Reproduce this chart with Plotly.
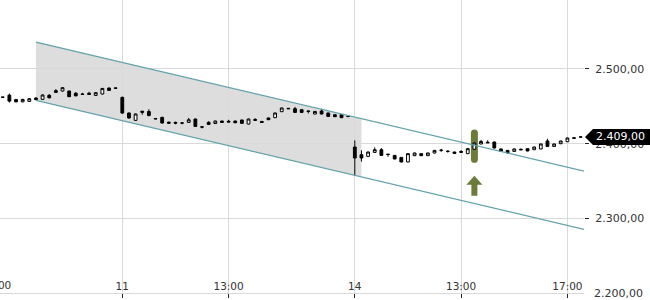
import plotly.graph_objects as go

# ---------------- data ----------------
days = ["10", "11", "14"]
first_bar = ("10", "13:15")
slot_times = [f"{9 + (i * 15) // 60:02d}:{(i * 15) % 60:02d}" for i in range(35)]  # 09:00 .. 17:30

opens = [2462.0, 2465.0, 2459.0, 2456.0, 2456.6, 2461.0, 2459.3, 2464.7, 2471.0, 2470.5,
         2470.5, 2467.5, 2466.5, 2467.5, 2464.6, 2466.5, 2474.5, 2474.5,
         2462.0, 2441.0, 2431.2, 2443.5, 2443.0, 2433.6, 2435.2, 2428.8, 2428.5, 2427.8,
         2428.5, 2433.0, 2422.5, 2428.5, 2427.0, 2430.3, 2430.0, 2430.3, 2431.7, 2426.3,
         2432.5, 2429.8, 2434.4, 2434.8, 2442.8, 2447.3, 2446.8, 2445.5, 2443.7, 2439.7,
         2443.7, 2441.1, 2438.8, 2438.8, 2436.6,
         2395.5, 2385.2, 2383.0, 2388.3, 2391.9, 2386.0, 2384.3, 2381.6, 2375.5, 2383.9,
         2386.6, 2383.9, 2387.5, 2391.0, 2389.8, 2388.8, 2389.5, 2386.6, 2392.5, 2399.6,
         2402.0, 2402.2, 2392.9, 2391.0, 2389.6, 2392.5, 2393.3, 2391.9, 2392.9, 2403.6,
         2396.3, 2399.9, 2402.6, 2407.8, 2408.8]
highs = [2463.0, 2467.0, 2460.0, 2460.0, 2461.0, 2462.5, 2466.0, 2466.5, 2473.0, 2475.5,
         2471.0, 2469.0, 2468.0, 2469.5, 2468.5, 2474.5, 2475.0, 2475.0,
         2463.0, 2442.0, 2440.5, 2443.8, 2446.0, 2434.0, 2436.0, 2429.5, 2429.5, 2428.0,
         2434.5, 2433.5, 2422.8, 2430.0, 2430.8, 2430.8, 2432.0, 2430.8, 2432.0, 2433.5,
         2434.0, 2430.0, 2434.8, 2441.5, 2448.3, 2447.8, 2449.2, 2446.0, 2444.0, 2443.7,
         2446.8, 2441.5, 2439.2, 2439.2, 2437.0,
         2404.4, 2391.0, 2389.5, 2395.0, 2394.0, 2386.3, 2384.8, 2382.0, 2387.0, 2388.0,
         2387.0, 2388.0, 2391.5, 2393.0, 2391.5, 2389.2, 2391.2, 2393.8, 2401.5, 2405.0,
         2404.5, 2402.7, 2393.3, 2391.4, 2393.3, 2393.5, 2393.7, 2396.0, 2400.0, 2406.5,
         2400.0, 2404.0, 2408.0, 2409.0, 2409.3]
lows = [2461.0, 2455.0, 2455.5, 2455.5, 2456.0, 2458.5, 2459.0, 2460.5, 2468.0, 2470.0,
        2462.5, 2463.5, 2465.8, 2465.8, 2464.0, 2466.0, 2471.0, 2474.0,
        2440.0, 2433.5, 2430.5, 2438.8, 2436.5, 2433.0, 2427.0, 2426.5, 2426.0, 2426.0,
        2428.0, 2422.5, 2420.5, 2425.5, 2426.5, 2428.0, 2428.8, 2427.8, 2426.8, 2425.8,
        2431.0, 2428.0, 2431.8, 2434.5, 2442.5, 2446.5, 2441.5, 2441.5, 2440.5, 2439.3,
        2439.3, 2436.0, 2435.8, 2434.3, 2436.0,
        2357.1, 2376.0, 2382.0, 2388.0, 2384.0, 2382.5, 2379.0, 2375.0, 2375.0, 2383.5,
        2383.5, 2383.5, 2387.0, 2389.0, 2388.0, 2386.5, 2387.5, 2386.2, 2392.0, 2399.2,
        2400.8, 2393.8, 2389.2, 2387.0, 2389.2, 2391.5, 2389.8, 2391.5, 2392.5, 2396.0,
        2396.0, 2399.5, 2402.3, 2407.0, 2408.5]
closes = [2462.3, 2457.0, 2456.0, 2459.3, 2460.2, 2459.0, 2465.2, 2461.5, 2468.7, 2475.0,
          2462.9, 2464.0, 2466.0, 2466.0, 2468.3, 2474.0, 2471.3, 2474.3,
          2441.0, 2434.4, 2439.7, 2442.0, 2437.8, 2433.2, 2427.7, 2427.5, 2427.5, 2427.6,
          2432.0, 2423.1, 2422.2, 2425.8, 2430.3, 2428.5, 2429.0, 2428.0, 2427.2, 2433.0,
          2431.3, 2428.5, 2432.1, 2441.1, 2447.8, 2446.8, 2441.9, 2441.9, 2443.3, 2443.2,
          2439.7, 2436.5, 2436.1, 2434.8, 2436.3,
          2380.8, 2380.8, 2388.8, 2391.9, 2384.3, 2385.5, 2379.5, 2375.5, 2386.6, 2387.5,
          2383.9, 2387.5, 2391.0, 2391.2, 2389.6, 2386.9, 2388.5, 2393.3, 2400.9, 2403.0,
          2401.2, 2394.2, 2389.6, 2387.5, 2392.9, 2391.8, 2390.2, 2395.5, 2399.6, 2396.3,
          2399.6, 2403.6, 2407.6, 2407.3, 2409.0]

last_price = 2409.00

# trend channel (start bar, values at start and at right edge)
channel_start = ("10", "14:30")
channel_upper = [2536.0, 2363.3]
channel_lower = [2458.0, 2285.3]
shade_end = ("14", "09:15")

signal_bar = ("14", "13:30")

x_ticks = [("10", "13:00", "13:00"), ("11", "09:00", "11"), ("11", "13:00", "13:00"),
           ("14", "09:00", "14"), ("14", "13:00", "13:00"), ("14", "17:00", "17:00")]

y_ticks = [2200, 2300, 2400, 2500]
y_ticktext = ["2.200,00", "2.300,00", "2.400,00", "2.500,00"]


# ---------------- helpers ----------------
def pos(day, t):
    return (days.index(day) - 1) * len(slot_times) + slot_times.index(t)


start = pos(*first_bar)
xs = [start + i for i in range(len(opens))]
x_range = [xs[0] - 0.41, xs[-1] + 0.5]
y_range = [y_ticks[0], 2592.4]

FONT = "DejaVu Sans"
TXT = "#333333"
GRID = "#d9d9d9"
TEAL = "#62a2ab"
GREEN = "#6b7b3a"

fig = go.Figure()

fig.add_trace(go.Candlestick(
    x=xs, open=opens, high=highs, low=lows, close=closes,
    increasing=dict(line=dict(color="black", width=1), fillcolor="white"),
    decreasing=dict(line=dict(color="black", width=1), fillcolor="black"),
    whiskerwidth=0, hoverinfo="skip",
))

# channel lines
cx0 = pos(*channel_start)
cx1 = x_range[1]
for vals in (channel_upper, channel_lower):
    fig.add_trace(go.Scatter(x=[cx0, cx1], y=vals, mode="lines",
                             line=dict(color=TEAL, width=1.2), hoverinfo="skip"))


def ch(vals, x):
    return vals[0] + (vals[1] - vals[0]) * (x - cx0) / (cx1 - cx0)


sx1 = pos(*shade_end)
shade_path = (f"M {cx0},{ch(channel_upper, cx0)} L {sx1},{ch(channel_upper, sx1)} "
              f"L {sx1},{ch(channel_lower, sx1)} L {cx0},{ch(channel_lower, cx0)} Z")
fig.add_shape(type="path", path=shade_path, xref="x", yref="y",
              fillcolor="#dddddd", line=dict(width=0), layer="below")

# signal marker (pill around candle + arrow below)
si = xs.index(pos(*signal_bar))
mid = (opens[si] + closes[si]) / 2
pill = ("M -3.5,13 L -3.5,-13 Q -3.5,-16.7 0,-16.7 Q 3.5,-16.7 3.5,-13 "
        "L 3.5,13 Q 3.5,16.7 0,16.7 Q -3.5,16.7 -3.5,13 Z")
fig.add_shape(type="path", path=pill, xref="x", yref="y",
              xsizemode="pixel", ysizemode="pixel", xanchor=xs[si], yanchor=mid,
              fillcolor=GREEN, line=dict(width=0), layer="between")
arrow = "M 0,-26 L 8,-35 L 3,-35 L 3,-46 L -3,-46 L -3,-35 L -8,-35 Z"
fig.add_shape(type="path", path=arrow, xref="x", yref="y",
              xsizemode="pixel", ysizemode="pixel", xanchor=xs[si], yanchor=lows[si],
              fillcolor=GREEN, line=dict(width=0), layer="above")

# last price label
label_path = "M 1,0 L 9,8 L 66,8 L 66,-8 L 9,-8 Z"
fig.add_shape(type="path", path=label_path, xref="paper", yref="y",
              xsizemode="pixel", ysizemode="pixel", xanchor=1, yanchor=last_price,
              fillcolor="black", line=dict(width=0), layer="above")
fig.add_annotation(xref="paper", yref="y", x=1, y=last_price, xanchor="left", yanchor="middle",
                   xshift=10, showarrow=False,
                   text=f"{last_price:,.2f}".replace(",", "X").replace(".", ",").replace("X", "."),
                   font=dict(family=FONT, size=11, color="white"))

# bottom y tick label (plotly hides it next to the inside x labels)
fig.add_annotation(xref="paper", yref="y", x=1, y=y_ticks[0], xanchor="left", yanchor="middle",
                   xshift=8, showarrow=False, text=y_ticktext[0],
                   font=dict(family=FONT, size=11, color=TXT))

# ticks
tickvals = [pos(d, t) for d, t, _ in x_ticks]
ticktext = [lab for _, _, lab in x_ticks]
# partially visible label left of the plot
for v, lab in zip(tickvals, ticktext):
    if v < x_range[0]:
        fig.add_annotation(xref="paper", yref="paper",
                           x=(v - x_range[0]) / (x_range[1] - x_range[0]), y=0,
                           xanchor="center", yanchor="bottom", showarrow=False, yshift=0,
                           text=lab, font=dict(family=FONT, size=10.5, color=TXT))

fig.update_layout(
    width=650, height=300,
    margin=dict(l=0, r=66, t=0, b=7),
    paper_bgcolor="white", plot_bgcolor="white",
    showlegend=False, boxgap=0.4,
    font=dict(family=FONT, size=11, color=TXT),
    xaxis=dict(type="linear", range=x_range, tickvals=tickvals, ticktext=ticktext,
               ticks="outside", ticklen=4, tickcolor="#222222",
               showgrid=True, gridcolor=GRID, gridwidth=1,
               showline=True, linecolor=GRID, linewidth=1, zeroline=False,
               ticklabelposition="inside", tickfont=dict(family=FONT, size=10.5, color=TXT),
               rangeslider=dict(visible=False)),
    yaxis=dict(side="right", range=y_range, tickvals=y_ticks, ticktext=y_ticktext,
               ticks="outside", ticklen=4, tickcolor="#222222",
               showgrid=True, gridcolor=GRID, gridwidth=1, zeroline=False, showline=False,
               tickfont=dict(family=FONT, size=11, color=TXT), ticklabelstandoff=4,
               ticklabeloverflow="allow"),
)

fig.write_html("out.html")
